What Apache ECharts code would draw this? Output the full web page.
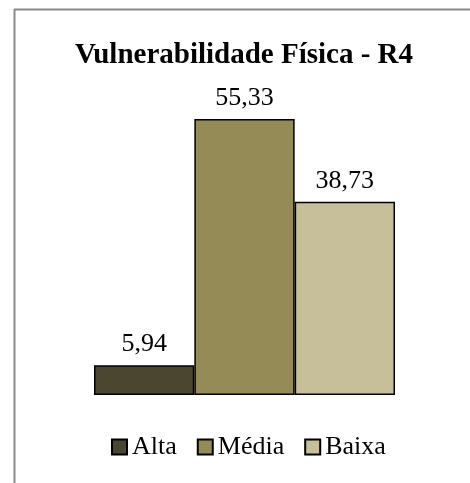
<!DOCTYPE html>
<html>
<head>
<meta charset="utf-8">
<script src="https://cdn.jsdelivr.net/npm/echarts@6/dist/echarts.min.js"></script>
<style>
  html, body { margin: 0; padding: 0; background: #fff; }
  #chart { width: 470px; height: 483px; }
</style>
</head>
<body>
<div id="chart"></div>
<script>
var categories = ['Alta', 'Média', 'Baixa'];
var values = [5.94, 55.33, 38.73];
var colors = ['#4b4630', '#958b57', '#c6bf9a'];

var chart = echarts.init(document.getElementById('chart'), null, { renderer: 'canvas' });
var serif = '"Liberation Serif", "Times New Roman", serif';

var option = {
  animation: false,
  title: {
    text: 'Vulnerabilidade Física - R4',
    left: 239,
    textAlign: 'center',
    top: 36,
    textStyle: { fontFamily: serif, fontSize: 29, fontWeight: 'bold', color: '#000' }
  },
  legend: {
    data: categories,
    bottom: 18,
    left: 106,
    itemWidth: 15,
    itemHeight: 15,
    itemGap: 20,
    icon: 'rect',
    textStyle: { fontFamily: serif, fontSize: 26, color: '#000' }
  },
  grid: { left: 94, right: 75, top: 95.6, bottom: 88 },
  xAxis: {
    type: 'category',
    data: ['R4'],
    axisLine: { show: false },
    axisTick: { show: false },
    axisLabel: { show: false }
  },
  yAxis: {
    type: 'value',
    min: 0,
    max: 60,
    show: false,
    splitLine: { show: false }
  },
  series: categories.map(function (name, i) {
    return {
      name: name,
      type: 'bar',
      data: [values[i]],
      barGap: '0%',
      barCategoryGap: '0%',
      itemStyle: { color: colors[i], borderColor: '#000', borderWidth: 1.5 },
      label: {
        show: true,
        position: 'top',
        distance: 8,
        fontFamily: serif,
        fontSize: 26,
        color: '#000',
        formatter: function (p) { return p.value.toFixed(2).replace('.', ','); }
      }
    };
  }),
  graphic: [
    { type: 'line', shape: { x1: 14.5, y1: 9, x2: 14.5, y2: 483 }, style: { stroke: '#8a8a8a', lineWidth: 2 } },
    { type: 'line', shape: { x1: 14, y1: 9.5, x2: 470, y2: 9.5 }, style: { stroke: '#8a8a8a', lineWidth: 2 } }
  ]
};

chart.setOption(option);
</script>
</body>
</html>
